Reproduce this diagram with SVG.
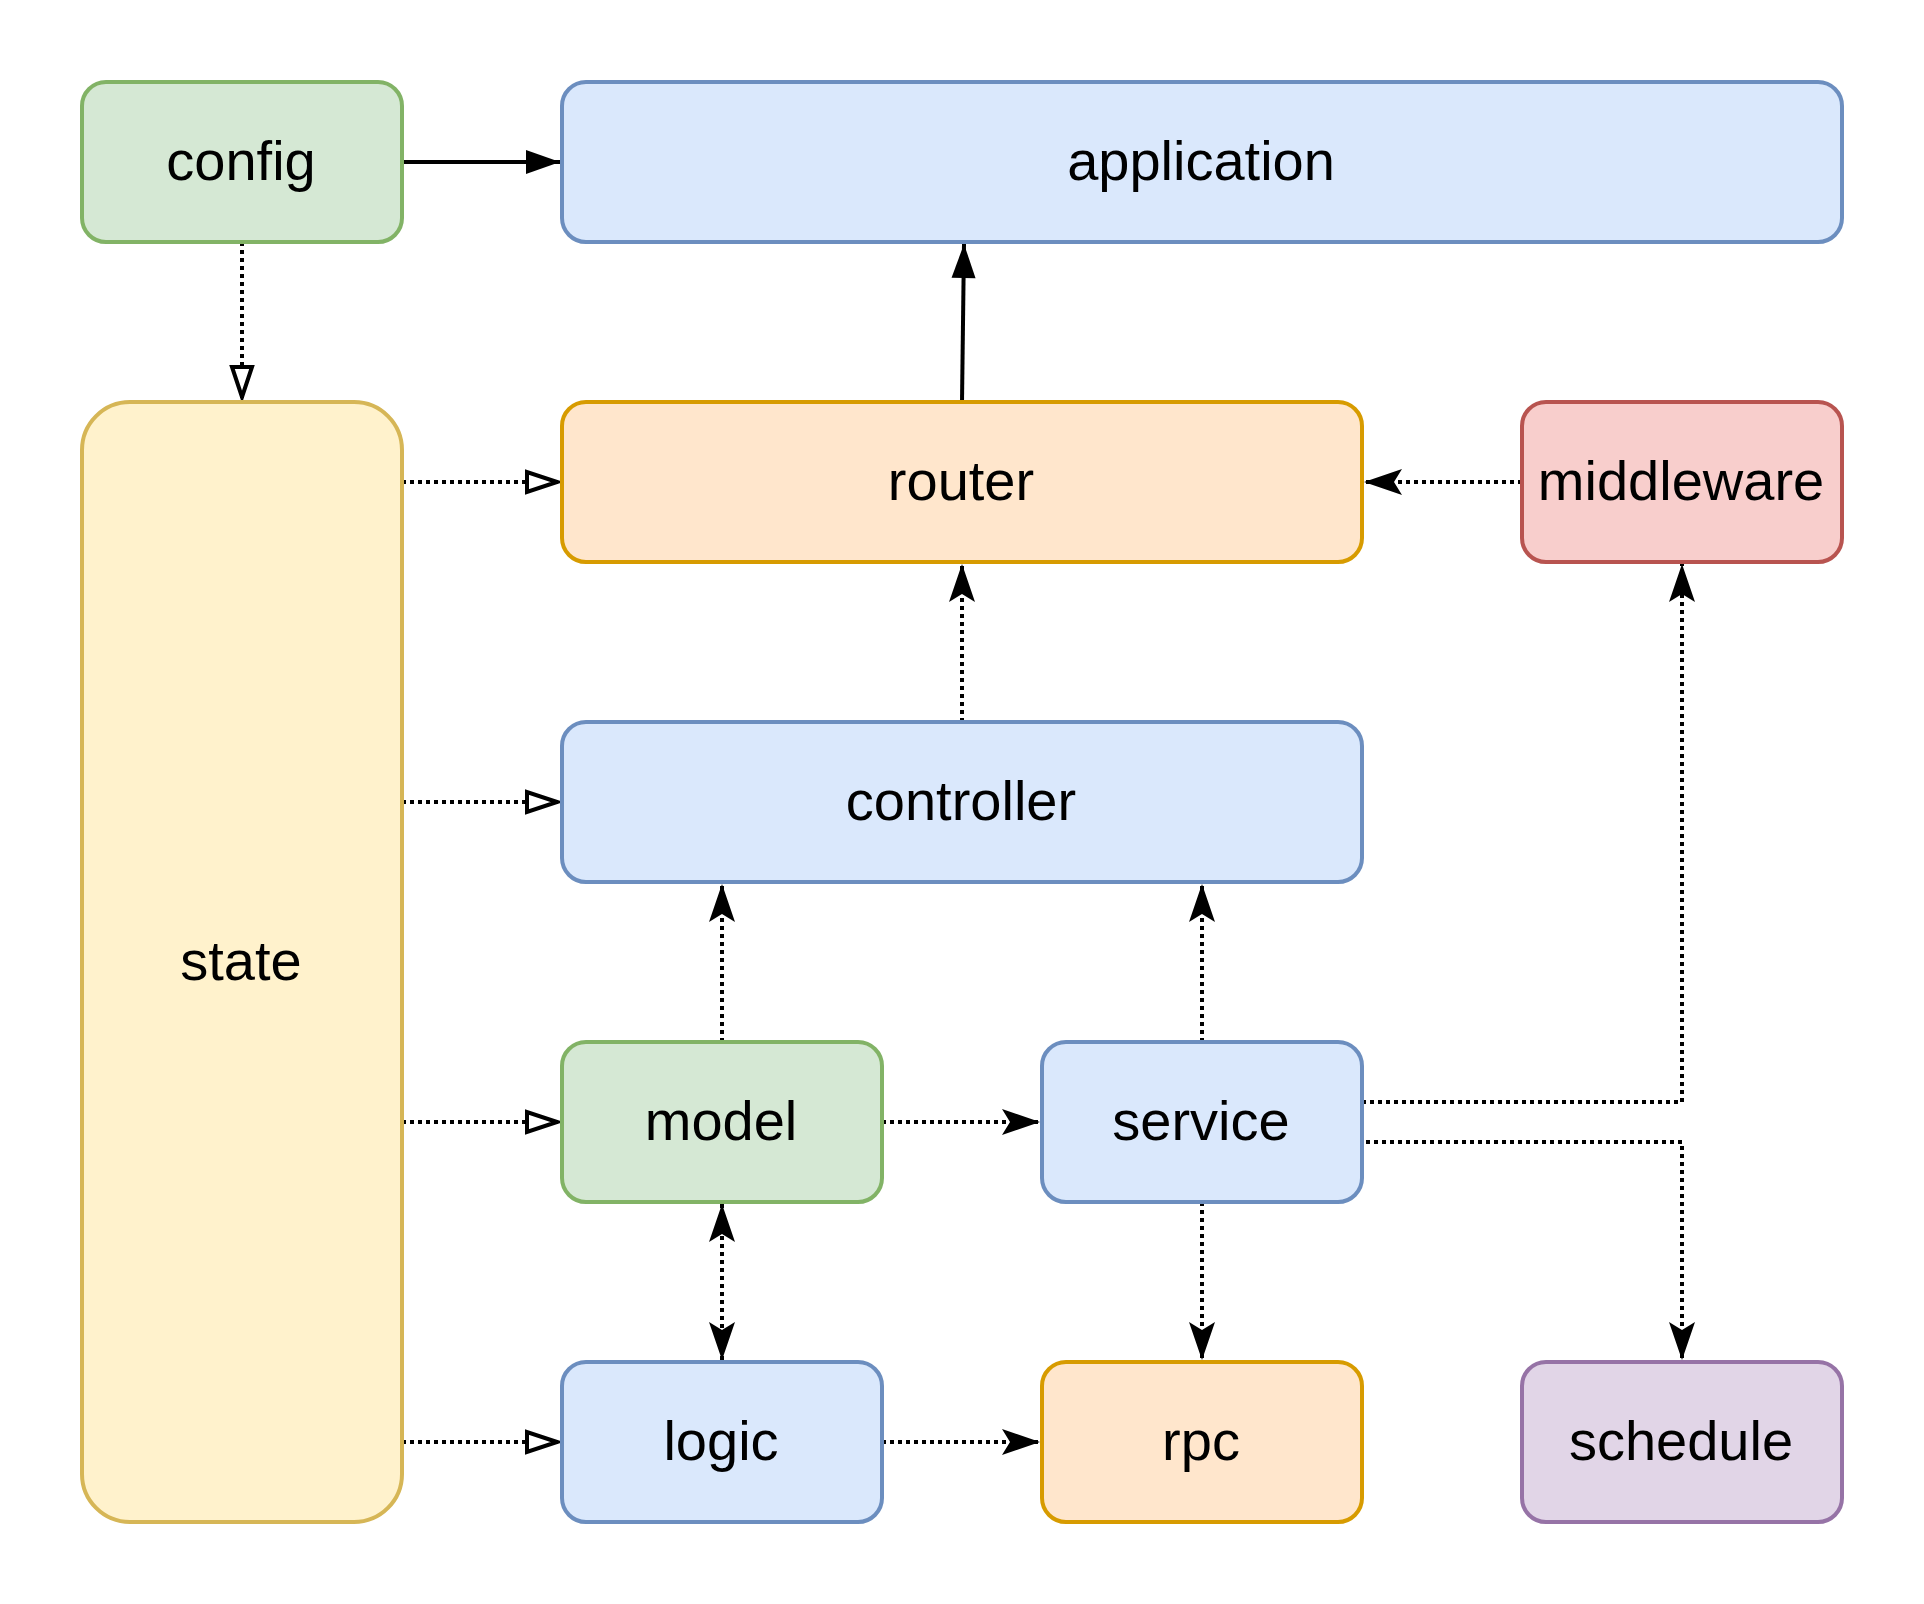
<svg xmlns="http://www.w3.org/2000/svg" width="1924" height="1604" viewBox="0 0 1924 1604">
<style>
.node rect{stroke-width:4}
.node text{font-family:"Liberation Sans",Arial,sans-serif;font-size:56px;text-anchor:middle;fill:#000}
.green rect{fill:#d5e8d4;stroke:#82b366}
.blue rect{fill:#dae8fc;stroke:#6c8ebf}
.yellow rect{fill:#fff2cc;stroke:#d6b656}
.orange rect{fill:#ffe6cc;stroke:#d79b00}
.red rect{fill:#f8cecc;stroke:#b85450}
.purple rect{fill:#e1d5e7;stroke:#9673a6}
.edge{fill:none;stroke:#000;stroke-width:4}
.dot{stroke-dasharray:4 4}
</style>
<defs>
<marker id="block" markerUnits="userSpaceOnUse" viewBox="-36 -14 38 28" markerWidth="38" markerHeight="28" refX="0" refY="0" orient="auto">
<path d="M0,0 L-34,-12 L-34,12 Z" fill="#000" stroke="none"/>
</marker>
<marker id="open" markerUnits="userSpaceOnUse" viewBox="-38 -16 40 32" markerWidth="40" markerHeight="32" refX="0" refY="0" orient="auto">
<path d="M-3,0 L-33,-10 L-33,10 Z" fill="#fff" stroke="#000" stroke-width="4" stroke-dasharray="none"/>
</marker>
<marker id="classic" markerUnits="userSpaceOnUse" viewBox="-40 -15 42 30" markerWidth="42" markerHeight="30" refX="0" refY="0" orient="auto-start-reverse">
<path d="M0,0 L-38,-13 L-30,0 L-38,13 Z" fill="#000" stroke="none"/>
</marker>
</defs>
<rect width="1924" height="1604" fill="#fff"/>
<g id="connectors">
<path class="edge" d="M402,162 H560" marker-end="url(#block)"/>
<path class="edge" d="M962,402 L964,244" marker-end="url(#block)"/>
<path class="edge dot" d="M242,242 V400" marker-end="url(#open)"/>
<path class="edge dot" d="M402,482 H560" marker-end="url(#open)"/>
<path class="edge dot" d="M402,802 H560" marker-end="url(#open)"/>
<path class="edge dot" d="M402,1122 H560" marker-end="url(#open)"/>
<path class="edge dot" d="M402,1442 H560" marker-end="url(#open)"/>
<path class="edge dot" d="M1522,482 H1364" marker-end="url(#classic)"/>
<path class="edge dot" d="M962,722 V564" marker-end="url(#classic)"/>
<path class="edge dot" d="M722,1042 V884" marker-end="url(#classic)"/>
<path class="edge dot" d="M1202,1042 V884" marker-end="url(#classic)"/>
<path class="edge dot" d="M882,1122 H1040" marker-end="url(#classic)"/>
<path class="edge dot" d="M722,1204 V1360" marker-start="url(#classic)" marker-end="url(#classic)"/>
<path class="edge dot" d="M1202,1202 V1360" marker-end="url(#classic)"/>
<path class="edge dot" d="M882,1442 H1040" marker-end="url(#classic)"/>
<path class="edge dot" d="M1362,1102 H1682 V564" marker-end="url(#classic)"/>
<path class="edge dot" d="M1366,1142 H1682 V1360" marker-end="url(#classic)"/>
</g>
<g id="config" class="node green"><rect x="82" y="82" width="320" height="160" rx="24"/><text x="241" y="180">config</text></g>
<g id="application" class="node blue"><rect x="562" y="82" width="1280" height="160" rx="24"/><text x="1201" y="180">application</text></g>
<g id="state" class="node yellow"><rect x="82" y="402" width="320" height="1120" rx="48"/><text x="241" y="980">state</text></g>
<g id="router" class="node orange"><rect x="562" y="402" width="800" height="160" rx="24"/><text x="961" y="500">router</text></g>
<g id="middleware" class="node red"><rect x="1522" y="402" width="320" height="160" rx="24"/><text x="1681" y="500">middleware</text></g>
<g id="controller" class="node blue"><rect x="562" y="722" width="800" height="160" rx="24"/><text x="961" y="820">controller</text></g>
<g id="model" class="node green"><rect x="562" y="1042" width="320" height="160" rx="24"/><text x="721" y="1140">model</text></g>
<g id="service" class="node blue"><rect x="1042" y="1042" width="320" height="160" rx="24"/><text x="1201" y="1140">service</text></g>
<g id="logic" class="node blue"><rect x="562" y="1362" width="320" height="160" rx="24"/><text x="721" y="1460">logic</text></g>
<g id="rpc" class="node orange"><rect x="1042" y="1362" width="320" height="160" rx="24"/><text x="1201" y="1460">rpc</text></g>
<g id="schedule" class="node purple"><rect x="1522" y="1362" width="320" height="160" rx="24"/><text x="1681" y="1460">schedule</text></g>
</svg>
